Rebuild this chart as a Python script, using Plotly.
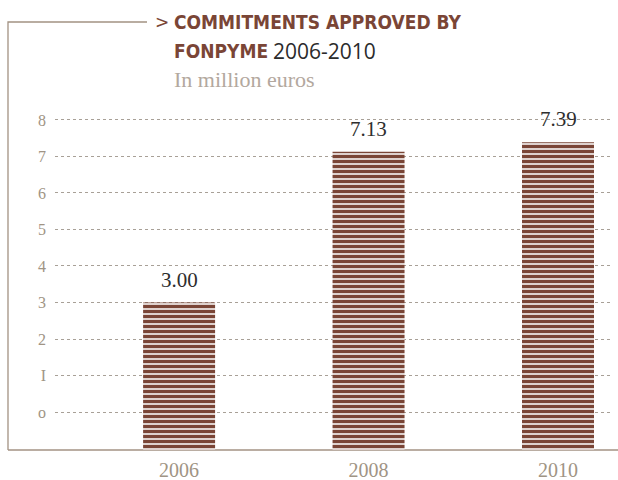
import plotly.graph_objects as go

years = [2006, 2008, 2010]
values = [3.00, 7.13, 7.39]
value_labels = ["3.00", "7.13", "7.39"]
y_ticks = [0, 1, 2, 3, 4, 5, 6, 7, 8]
y_ticklabels = ["o", "I", "2", "3", "4", "5", "6", "7", "8"]

W, H = 618, 480
L, R, T, B = 55, 6, 109, 30
PW, PH = W - L - R, H - T - B
YMIN, YMAX = -1.04, 8.3

BROWN = "#7a4536"
TAUPE = "#a39283"
GRID = "#a8a097"


def px(x):
    return (x - L) / PW


def py(y):
    return (H - B - y) / PH


fig = go.Figure()
fig.add_trace(go.Bar(
    x=years,
    y=[v - YMIN for v in values],
    base=YMIN,
    width=0.76,
    marker=dict(
        color=BROWN,
        line=dict(width=0),
        pattern=dict(shape="-", fgcolor=BROWN, bgcolor="white",
                     fillmode="replace", size=5, solidity=0.7),
    ),
    hoverinfo="skip",
))

for yr, v, lab in zip(years, values, value_labels):
    fig.add_annotation(x=yr, y=v, text=lab, showarrow=False, yanchor="bottom",
                       yshift=9, font=dict(family="Liberation Serif", size=21, color="#2e2e2e"))

# title block
fig.add_annotation(xref="paper", yref="paper", x=px(153), y=py(22), xanchor="left",
                   yanchor="middle", text=">", showarrow=False,
                   font=dict(family="DejaVu Sans", size=17, color=BROWN))
fig.add_annotation(xref="paper", yref="paper", x=px(172), y=py(22), xanchor="left",
                   yanchor="middle", text="<b>COMMITMENTS APPROVED BY</b>", showarrow=False,
                   font=dict(family="DejaVu Sans Condensed", size=19, color=BROWN))
fig.add_annotation(xref="paper", yref="paper", x=px(172), y=py(51), xanchor="left",
                   yanchor="middle", text="<b>FONPYME</b>", showarrow=False,
                   font=dict(family="DejaVu Sans Condensed", size=19, color=BROWN))
fig.add_annotation(xref="paper", yref="paper", x=px(271), y=py(51), xanchor="left",
                   yanchor="middle", text="2006-2010", showarrow=False,
                   font=dict(family="Open Sans", size=21, color="#2b2b2b"))
fig.add_annotation(xref="paper", yref="paper", x=px(172), y=py(79), xanchor="left",
                   yanchor="middle", text="In million euros", showarrow=False,
                   font=dict(family="Liberation Serif", size=22, color="#b3a89e"))

# frame lines
fig.add_shape(type="path", xref="paper", yref="paper",
              path=f"M {px(8)} {py(450)} L {px(8)} {py(22)} L {px(147)} {py(22)}",
              line=dict(color=TAUPE, width=1.3), layer="below")
fig.add_shape(type="line", xref="paper", yref="paper", x0=px(8), x1=px(618),
              y0=py(450), y1=py(450), line=dict(color=TAUPE, width=1.3), layer="below")

fig.update_layout(
    width=W, height=H,
    margin=dict(l=L, r=R, t=T, b=B, autoexpand=False),
    paper_bgcolor="white", plot_bgcolor="white",
    showlegend=False,
    xaxis=dict(range=[2004.69, 2010.57], tickvals=years, ticktext=[str(y) for y in years],
               showgrid=False, zeroline=False, showline=False, ticks="",
               tickfont=dict(family="Liberation Serif", size=20, color="#a09484"),
               ticklabelstandoff=6, automargin=False, fixedrange=True),
    yaxis=dict(range=[YMIN, YMAX], tickvals=y_ticks, ticktext=y_ticklabels,
               showgrid=True, gridcolor=GRID, griddash="dot", gridwidth=1,
               zeroline=False, showline=False, ticks="",
               tickfont=dict(family="Liberation Serif", size=16, color="#a09484"),
               ticklabelstandoff=8, automargin=False, fixedrange=True),
)

fig.write_html("out.html")
